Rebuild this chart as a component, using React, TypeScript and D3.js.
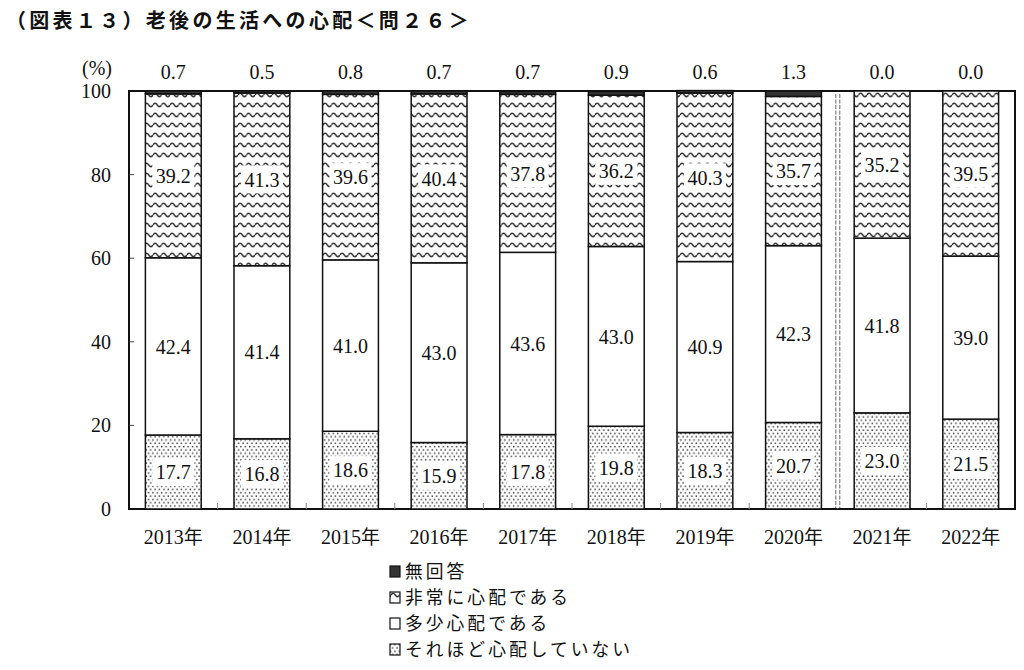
import React from "react";
import * as d3 from "d3";

const years = ["2013年", "2014年", "2015年", "2016年", "2017年", "2018年", "2019年", "2020年", "2021年", "2022年"];
const noAnswer = [0.7, 0.5, 0.8, 0.7, 0.7, 0.9, 0.6, 1.3, 0.0, 0.0];
const veryWorried = [39.2, 41.3, 39.6, 40.4, 37.8, 36.2, 40.3, 35.7, 35.2, 39.5];
const somewhatWorried = [42.4, 41.4, 41.0, 43.0, 43.6, 43.0, 40.9, 42.3, 41.8, 39.0];
const notWorried = [17.7, 16.8, 18.6, 15.9, 17.8, 19.8, 18.3, 20.7, 23.0, 21.5];
const yTicks = [0, 20, 40, 60, 80, 100];
const seriesNames = ["無回答", "非常に心配である", "多少心配である", "それほど心配していない"];
const title = "（図表１３）老後の生活への心配＜問２６＞";
const breakAfterIndex = 7;

const NUM_FONT = "'Liberation Serif', 'DejaVu Serif', serif";
const JP_FONT = "'Noto Sans CJK JP', sans-serif";

export default function App() {
  const W = 1024, H = 670;
  const left = 129, right = 1015, top = 91, bottom = 509;

  const x = d3.scaleBand<string>().domain(years).range([left, right]).paddingInner(0.37).paddingOuter(0.185);
  const y = d3.scaleLinear().domain([0, 100]).range([bottom, top]);

  const rows = years.map((yr, i) => ({
    year: yr,
    not: notWorried[i],
    some: somewhatWorried[i],
    very: veryWorried[i],
    na: noAnswer[i],
  }));
  const keys = ["not", "some", "very", "na"];
  const stacked = d3.stack<any>().keys(keys)(rows);
  const fills: Record<string, string> = {
    not: "url(#dots)",
    some: "#ffffff",
    very: "url(#waves)",
    na: "#333333",
  };

  const step = x.step();
  const boundaries = d3.range(1, years.length).map((k) => left + k * step);
  const sepX = left + (breakAfterIndex + 1) * step;

  return (
    <svg width={W} height={H} style={{ display: "block", position: "absolute", left: 0, top: 0 }}>
      <defs>
        <pattern id="waves" patternUnits="userSpaceOnUse" width={8.5} height={10}>
          <rect width={8.5} height={10} fill="#fff" />
          <path d="M0,5 Q2.125,1.6 4.25,5 Q6.375,8.4 8.5,5" fill="none" stroke="#333" strokeWidth={1.5} />
        </pattern>
        <pattern id="dots" patternUnits="userSpaceOnUse" width={4.4} height={6.6}>
          <rect width={4.4} height={6.6} fill="#fff" />
          <circle cx={1.1} cy={1.1} r={0.85} fill="#444" />
          <circle cx={3.3} cy={4.4} r={0.85} fill="#444" />
        </pattern>
      </defs>
      <rect width={W} height={H} fill="#fff" />

      <text x={6} y={28} fontFamily={JP_FONT} fontWeight={700} fontSize={20} letterSpacing={3.3} fill="#111">
        {title}
      </text>

      {/* plot frame */}
      <rect x={left} y={top} width={right - left} height={bottom - top} fill="#fff" stroke="#111" strokeWidth={2} />

      {/* y ticks */}
      {yTicks.map((t) => (
        <g key={t}>
          {t > 0 && t < 100 && <line x1={left} x2={left + 5} y1={y(t)} y2={y(t)} stroke="#444" strokeWidth={1} />}
          <text x={111} y={y(t)} dy="0.35em" textAnchor="end" fontFamily={NUM_FONT} fontSize={20} fill="#111">
            {t}
          </text>
        </g>
      ))}
      <text x={97} y={75} textAnchor="middle" fontFamily={NUM_FONT} fontSize={20} fill="#111">
        (%)
      </text>

      {/* bottom category ticks */}
      {boundaries.map((bx, k) => (
        <line key={k} x1={bx} x2={bx} y1={bottom} y2={bottom - 6} stroke="#888" strokeWidth={1} />
      ))}

      {/* separator between 2020 and 2021 */}
      <rect x={sepX - 3} y={top + 1} width={6} height={bottom - top - 2} fill="#fff" />
      <line x1={sepX - 2} x2={sepX - 2} y1={top + 3} y2={bottom - 1} stroke="#666" strokeWidth={1} strokeDasharray="4,1.5" />
      <line x1={sepX + 2} x2={sepX + 2} y1={top + 3} y2={bottom - 1} stroke="#666" strokeWidth={1} strokeDasharray="4,1.5" />

      {/* bars */}
      {stacked.map((s) => (
        <g key={s.key}>
          {s.map((d, i) => {
            const h = y(d[0]) - y(d[1]);
            if (h <= 0) return null;
            return (
              <rect
                key={i}
                x={x(years[i])!}
                y={y(d[1])}
                width={x.bandwidth()}
                height={h}
                fill={fills[s.key]}
                stroke="#111"
                strokeWidth={1.5}
              />
            );
          })}
        </g>
      ))}

      {/* segment labels */}
      {stacked
        .filter((s) => s.key !== "na")
        .map((s) => (
          <g key={"l" + s.key}>
            {s.map((d, i) => {
              const cx = x(years[i])! + x.bandwidth() / 2;
              const cy = (y(d[0]) + y(d[1])) / 2;
              const v = d[1] - d[0];
              return (
                <g key={i}>
                  <rect x={cx - 21} y={cy - 14} width={42} height={28} fill="#fff" />
                  <text x={cx} y={cy} dy="0.36em" textAnchor="middle" fontFamily={NUM_FONT} fontSize={20} fill="#111">
                    {v.toFixed(1)}
                  </text>
                </g>
              );
            })}
          </g>
        ))}

      {/* no-answer labels above */}
      {noAnswer.map((v, i) => (
        <text
          key={"na" + i}
          x={x(years[i])! + x.bandwidth() / 2}
          y={79}
          textAnchor="middle"
          fontFamily={NUM_FONT}
          fontSize={20}
          fill="#111"
        >
          {v.toFixed(1)}
        </text>
      ))}

      {/* x labels */}
      {years.map((yr) => (
        <text
          key={yr}
          x={x(yr)! + x.bandwidth() / 2}
          y={544}
          textAnchor="middle"
          fontFamily={NUM_FONT}
          fontSize={20}
          fill="#111"
        >
          {yr.replace("年", "")}
          <tspan fontFamily={JP_FONT} fontSize={19}>年</tspan>
        </text>
      ))}

      {/* legend */}
      {seriesNames.map((name, i) => {
        const ly = 572 + i * 26;
        const fillKey = ["na", "very", "some", "not"][i];
        return (
          <g key={name}>
            <rect
              x={390}
              y={ly - 6}
              width={10}
              height={11}
              fill={fills[fillKey]}
              stroke="#111"
              strokeWidth={1.2}
            />
            <text x={405} y={ly} dy="0.36em" fontFamily={JP_FONT} fontSize={17.8} letterSpacing={3} fill="#111">
              {name}
            </text>
          </g>
        );
      })}
    </svg>
  );
}
